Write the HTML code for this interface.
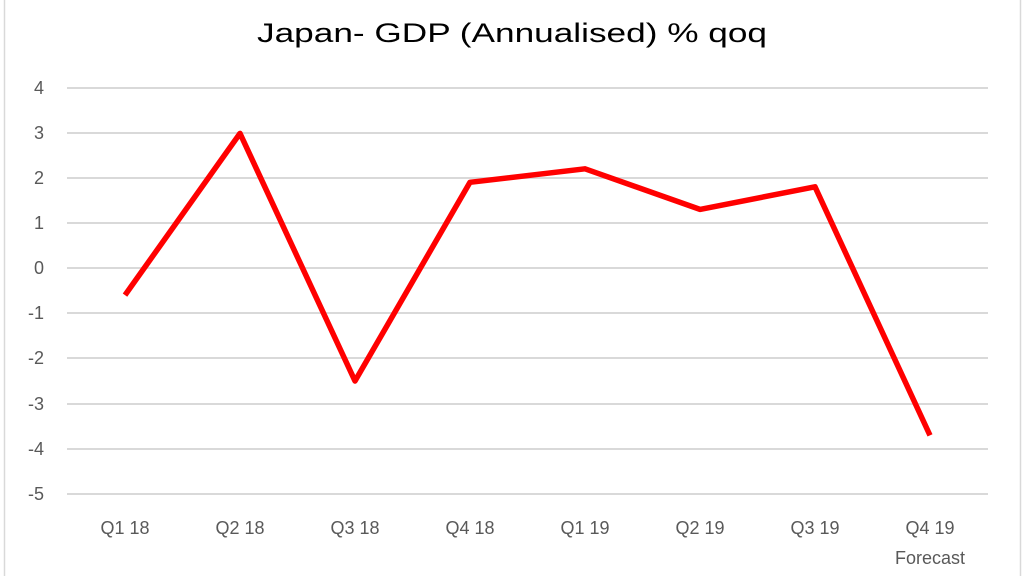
<!DOCTYPE html>
<html><head><meta charset="utf-8"><style>
html,body{margin:0;padding:0;background:#fff;width:1024px;height:576px;overflow:hidden}
</style></head><body>
<svg width="1024" height="576" viewBox="0 0 1024 576" xmlns="http://www.w3.org/2000/svg" font-family="Liberation Sans, sans-serif">
<rect x="0" y="0" width="1024" height="576" fill="#fff"/>
<line x1="4.5" y1="0" x2="4.5" y2="576" stroke="#d9d9d9" stroke-width="1.5"/>
<line x1="1020.5" y1="0" x2="1020.5" y2="576" stroke="#d9d9d9" stroke-width="1.5"/>
<text x="512" y="42" font-size="27" fill="#000" text-anchor="middle" textLength="510" lengthAdjust="spacingAndGlyphs">Japan- GDP (Annualised) % qoq</text>
<g stroke="#d9d9d9" stroke-width="2">
<line x1="67" x2="988" y1="88" y2="88"/><line x1="67" x2="988" y1="133" y2="133"/>
<line x1="67" x2="988" y1="178" y2="178"/><line x1="67" x2="988" y1="223" y2="223"/>
<line x1="67" x2="988" y1="268" y2="268"/><line x1="67" x2="988" y1="313" y2="313"/>
<line x1="67" x2="988" y1="358" y2="358"/><line x1="67" x2="988" y1="404" y2="404"/>
<line x1="67" x2="988" y1="449" y2="449"/><line x1="67" x2="988" y1="494" y2="494"/>
</g>
<g font-size="18" fill="#595959" text-anchor="end">
<text x="44" y="94">4</text><text x="44" y="139">3</text><text x="44" y="184">2</text>
<text x="44" y="229">1</text><text x="44" y="274">0</text><text x="44" y="319">-1</text>
<text x="44" y="364">-2</text><text x="44" y="410">-3</text><text x="44" y="455">-4</text>
<text x="44" y="500">-5</text>
</g>
<g font-size="18" fill="#595959" text-anchor="middle">
<text x="125" y="534">Q1 18</text><text x="240" y="534">Q2 18</text><text x="355" y="534">Q3 18</text>
<text x="470" y="534">Q4 18</text><text x="585" y="534">Q1 19</text><text x="700" y="534">Q2 19</text>
<text x="815" y="534">Q3 19</text><text x="930" y="534">Q4 19</text>
<text x="930" y="564">Forecast</text>
</g>
<polyline fill="none" stroke="#ff0000" stroke-width="5.5" stroke-linejoin="round"
points="125,295.1 240,133.4 355,381 470,182.3 585,168.8 700,209.4 815,186.8 930,435.4"/>
</svg>
</body></html>
